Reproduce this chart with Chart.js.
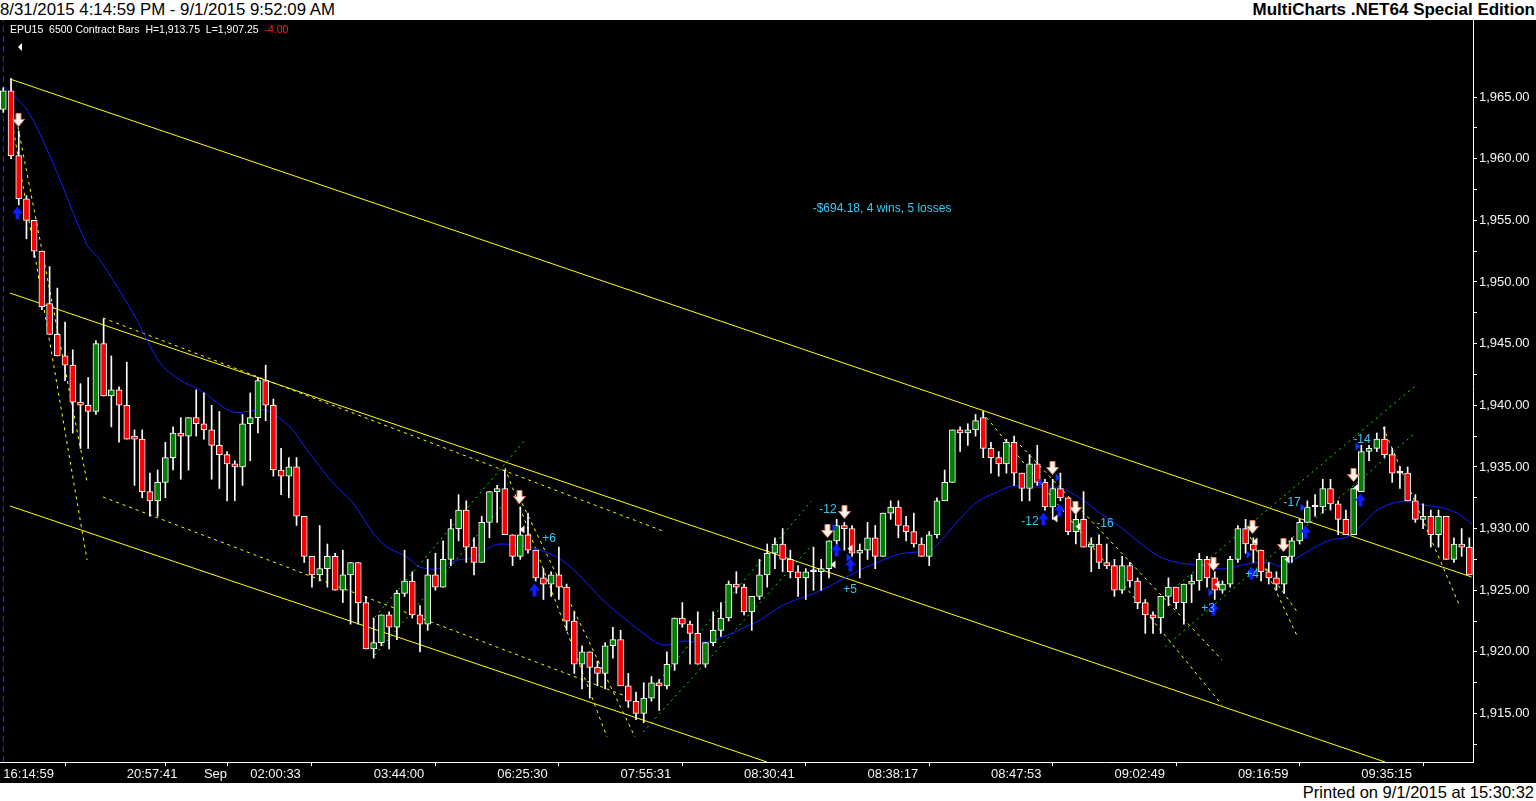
<!DOCTYPE html>
<html><head><meta charset="utf-8">
<script src="https://cdn.jsdelivr.net/npm/chart.js@4.4.0/dist/chart.umd.min.js"></script>
<style>
html,body{margin:0;padding:0;background:#fff;width:1536px;height:801px;overflow:hidden;font-family:"Liberation Sans",Arial,sans-serif}
#hdr{position:absolute;left:0;top:0;width:1536px;height:20px;background:#fff}
#hdrL{position:absolute;left:0;top:0;font-size:16.8px;color:#000;line-height:20px;white-space:nowrap}
#hdrR{position:absolute;right:1px;top:0;font-size:17px;font-weight:bold;color:#000;line-height:20px;white-space:nowrap}
#wrap{position:absolute;left:0;top:20px;width:1536px;height:763px;background:#000}
#ftr{position:absolute;left:0;top:783px;width:1536px;height:18px;background:#fff}
#ftrT{position:absolute;right:2px;top:0;font-size:16.5px;line-height:18px;color:#000;white-space:nowrap}
</style></head>
<body>
<div id="hdr"><span id="hdrL">8/31/2015 4:14:59 PM - 9/1/2015 9:52:09 AM</span><span id="hdrR">MultiCharts .NET64 Special Edition</span></div>
<div id="wrap"><canvas id="c" width="1536" height="763"></canvas></div>
<div id="ftr"><span id="ftrT">Printed on 9/1/2015 at 15:30:32</span></div>
<script>
// ---- Candle data (bar index 0..190) ----
const open = [1964,1965.5,1960.25,1956.75,1955,1952.5,1948.25,1945.75,1944,1943.25,
1940.25,1940,1939.5,1945,1940.75,1941.25,1940,1937.5,1937.25,1933,
1932.25,1933.75,1935.75,1937.75,1937.5,1939,1938.5,1938,1936.75,1936,
1935.25,1935,1938.5,1939,1942,1940,1934.75,1934.25,1935,1931,
1927.75,1926.25,1926.75,1927.75,1925,1926.25,1927.25,1924,1920.25,1920.75,
1923,1922,1924.75,1925.75,1923,1922.25,1926.25,1925.25,1927.5,1930,
1931.5,1928.5,1927.25,1930.5,1933,1933.25,1929.5,1927.75,1929.5,1928.25,
1926,1925.5,1926.25,1925.25,1922.5,1919,1920,1918.75,1918.25,1920.5,
1921,1917.25,1916,1915,1916.25,1917.5,1917.25,1919,1922.75,1922.25,
1921.5,1919,1920.75,1921.75,1922.75,1925.5,1925.25,1923.25,1924.5,1926.25,
1928,1928.75,1927.5,1926.5,1926,1926.5,1926.5,1926.75,1929,1930.25,
1930,1928,1928.25,1929.25,1927.75,1931.25,1931.75,1930.25,1929.75,1928.75,
1927.75,1929.5,1932.25,1933.75,1938,1937.75,1938,1939,1936.5,1935.75,
1935.25,1937,1934.5,1933.25,1935.25,1933.75,1931.75,1933.25,1932.5,1929.75,
1930.75,1928.5,1928.75,1927.25,1927,1925,1927,1925.75,1924,1923,
1922.75,1924.5,1925.25,1924,1925.5,1925.75,1927.5,1926,1925,1925.5,
1927.5,1930,1928.75,1928.25,1926.5,1926,1925.5,1927.75,1929,1930.5,
1931.75,1931.75,1933.25,1932,1930.75,1929.5,1933,1936.25,1936.5,1937.25,
1936,1934.5,1934.5,1932.25,1930.75,1931,1929.5,1931,1927.5,1928.75,
1928.5];
const high = [1965.75,1966.5,1962.25,1957,1955,1952.5,1951.25,1949.5,1946.75,1944.5,
1941.75,1942.25,1945.25,1947,1944,1941.5,1943.5,1938,1938,1934.5,
1934.75,1937,1938.25,1939,1939,1941.25,1941,1940,1939.5,1936.25,
1935.5,1939.25,1941,1942.25,1943.25,1940.5,1936.5,1935.75,1935.75,1931,
1927.75,1930.25,1928.75,1928,1928.25,1927.25,1927.25,1924.5,1922.75,1923,
1923.25,1925,1928.25,1926.5,1923.75,1927.5,1928,1929,1930.75,1932.75,
1932.25,1929.25,1931,1933,1933.5,1934.75,1929.5,1931.75,1931.25,1928.25,
1926.75,1926.5,1928.5,1925.5,1923.25,1920.5,1920,1919.25,1920.75,1922,
1921.75,1918.25,1916.75,1917.5,1918,1917.75,1920,1922.75,1924,1922.5,
1923.25,1920.75,1923.25,1924,1925.75,1926.5,1925.5,1924.5,1927.5,1928.75,
1929.25,1930,1928.25,1927,1926.75,1928.5,1927.5,1929,1930.75,1930.5,
1930.25,1928.75,1930.5,1930.25,1931.25,1932.25,1932.25,1931,1931.25,1929.25,
1929.75,1932.5,1934.75,1938,1938.25,1938.5,1939.25,1939.5,1937,1936.25,
1937.25,1937.5,1934.5,1936,1936.75,1934,1934,1934.5,1932.5,1931.25,
1933,1929.25,1929.5,1928.75,1927.5,1927.75,1927.25,1926,1924.25,1923.25,
1924.5,1926,1925.25,1925.5,1926.25,1928,1927.75,1926.5,1925.75,1927.75,
1930.25,1930.75,1929.25,1928.25,1927.25,1926.5,1927.75,1929.25,1930.75,1932.25,
1932.75,1934,1934,1932.25,1931.5,1933.25,1936.75,1936.75,1937.75,1938.25,
1936.5,1935,1935,1932.75,1932,1931.5,1931.5,1931,1929.25,1930,
1929.25];
const low = [1963.75,1960,1956.25,1953.5,1952,1947.75,1945.75,1944,1942,1937.75,
1936.5,1936.5,1939.25,1940.75,1938.25,1937,1937.25,1933.5,1932.5,1931,
1931,1932.5,1934.75,1934,1934.75,1937.5,1937.25,1934,1933.25,1932.25,
1932.25,1933.5,1935.5,1937.75,1938.75,1934.25,1932.75,1932.5,1930.25,1927.25,
1925.25,1925.75,1925.25,1925,1924,1922.25,1922.25,1920.25,1919.5,1920.5,
1920.25,1921,1924.5,1922.75,1920,1921.75,1925,1925.25,1927,1929,
1927.25,1926.25,1927.25,1929.25,1930.5,1929.5,1927,1927.5,1928,1925.75,
1924.25,1924.5,1924.25,1921.75,1918.25,1917,1916.25,1917.25,1917,1919.5,
1917.25,1915.5,1914.5,1914.25,1916,1915.25,1917,1918.5,1922,1919,
1919,1918.75,1920.5,1921.25,1922.5,1924.75,1923,1921.75,1924.25,1925.25,
1926.75,1926.5,1926,1924.5,1924.25,1925,1925,1926,1928.5,1928.25,
1927.75,1926,1927.5,1926.75,1927.75,1930.75,1929.25,1929,1928.5,1927.75,
1927,1929.25,1932.25,1933.75,1936.25,1936.75,1937.5,1935.75,1934.5,1934.25,
1934.5,1933.5,1932.25,1932.25,1933.5,1931.5,1930.75,1932.25,1929.5,1928.75,
1928.5,1926.5,1926.75,1926.75,1924.5,1924.75,1925.25,1923.5,1921.5,1921.5,
1921.5,1923.75,1923.5,1922.25,1924,1925,1925.25,1924.25,1924.75,1925.25,
1927.25,1928,1927.25,1925.75,1925.5,1925,1924.75,1927.25,1928.75,1930.5,
1931,1931.25,1931.5,1929.5,1929.5,1929.5,1933,1935.5,1936.25,1935.75,
1933.75,1933.25,1932.25,1930.5,1930,1928.5,1928.5,1927.5,1927.25,1927.75,
1926.25];
const close = [1965.5,1960.25,1956.75,1955,1952.5,1948,1945.75,1944,1943.25,1940.25,
1940,1939.5,1945,1940.75,1941.25,1940,1937.25,1937.25,1933,1932.25,
1933.75,1935.75,1937.75,1937.5,1939,1938.5,1938,1936.75,1936,1935.25,
1935,1938.5,1939,1942,1940,1934.75,1934.25,1935,1931,1927.75,
1926.25,1926.75,1927.75,1925,1926.25,1927.25,1924,1920.25,1920.75,1923,
1922,1924.75,1925.75,1923,1922.25,1926.25,1925.25,1927.5,1930,1931.5,
1928.5,1927.25,1930.5,1933,1933.25,1929.5,1927.75,1929.5,1928.25,1926,
1925.5,1926.25,1925.25,1922.5,1919,1920,1918.75,1918.25,1920.5,1921,
1917.25,1916,1915,1916.25,1917.5,1917.25,1919,1922.75,1922.25,1921.5,
1919,1920.75,1921.75,1922.75,1925.5,1925.25,1923.25,1924.5,1926.25,1928,
1928.75,1927.5,1926.5,1926,1926.5,1926.5,1926.75,1929,1930.25,1930,
1928,1928.25,1929.25,1927.75,1931.25,1931.75,1930.25,1929.75,1928.75,1927.75,
1929.5,1932.25,1933.75,1938,1937.75,1938,1938.75,1936.5,1935.75,1935.25,
1937,1934.5,1933.25,1935.25,1933.75,1931.75,1933.25,1932.5,1929.75,1930.75,
1928.5,1928.75,1927.25,1927,1925,1927,1925.75,1924,1923,1922.75,
1924.5,1925.25,1924,1925.5,1925.75,1927.5,1926,1925,1925.5,1927.5,
1930,1928.75,1928.25,1926.5,1926,1925.5,1927.75,1929,1930.5,1931.75,
1931.75,1933.25,1932,1930.75,1929.5,1933.25,1936.25,1936.5,1937.25,1936,
1934.5,1934.5,1932.25,1930.75,1931,1929.5,1931,1927.5,1928.75,1928.5,
1926.25];

// ---- Axis ticks ----
const xTickIdx  = [0,16,26,32,48,64,80,96,112,128,144,160,176];
const xTickText = ['16:14:59','20:57:41','Sep','02:00:33','03:44:00','06:25:30','07:55:31','08:30:41','08:38:17','08:47:53','09:02:49','09:16:59','09:35:15'];
const yTickVals = [1912.5,1915,1917.5,1920,1922.5,1925,1927.5,1930,1932.5,1935,1937.5,1940,1942.5,1945,1947.5,1950,1952.5,1955,1957.5,1960,1962.5,1965];

// ---- Moving average (read at sampled bars) ----
const maIdx = [0,3.07,6.44,10.85,12.53,16.81,20.31,22.9,25.49,29.77,33.92,37.16,39.36,42.73,45.32,47.91,49.73,52.32,54.01,56.21,58.8,60.87,63.08,64.37,68.26,71.76,74.35,77.72,81.22,84.72,86.02,88.09,91.2,93.27,95.87,98.07,101.05,105.46,108.05,111.03,114.01,116.21,118.42,120.1,121.79,123.6,126.2,128.79,130.86,133.45,136.95,139.93,142.14,144.73,147.32,149.91,152.5,155.09,157.68,159.37,161.96,164.17,165.46,166.76,169.35,171.94,174.14,175.83,178.03,180.62,182.31,184.0,186.59,188.39,190.34];
const maVal = [1965.89,1963.95,1959.65,1953.0,1951.78,1947.48,1943.43,1942.05,1941.24,1939.45,1939.61,1938.24,1936.37,1933.69,1932.07,1929.64,1928.5,1927.69,1926.88,1926.72,1927.45,1927.61,1928.5,1928.75,1928.5,1927.69,1926.39,1924.2,1922.34,1920.72,1920.55,1920.88,1920.8,1921.2,1921.93,1922.58,1923.8,1924.85,1925.66,1926.64,1927.45,1927.94,1928.1,1928.18,1929.23,1930.53,1932.15,1932.96,1933.45,1933.37,1933.29,1932.32,1931.26,1930.13,1928.83,1927.69,1927.21,1927.04,1926.72,1926.88,1927.21,1927.21,1926.96,1927.29,1928.26,1929.07,1929.32,1930.13,1931.5,1932.15,1932.15,1931.91,1931.67,1931.26,1930.37];

// ---- Trend lines [barIndex, price] ----
const trendTop = [[0.87,1966.46],[190.3,1926.07]];
const trendMid = [[0.87,1949.10],[179.07,1911.07]];
const trendLow = [[0.87,1931.83],[98.97,1911.07]];
const dashUpper = [[12.92,1947.08],[85.5,1929.80]];
const dashLower = [[12.92,1932.56],[80.96,1916.34]];
const steepLines = [
  [[0.87,1963.95],[10.85,1927.45]],
  [[1.9,1962.57],[10.85,1933.78]],
  [[65.02,1934.91],[78.24,1913.09]],
  [[66.84,1932.56],[81.87,1913.09]],
  [[126.84,1939.45],[157.95,1915.69]],
  [[131.77,1936.78],[157.95,1919.34]],
  [[161.6,1929.32],[167.8,1921.13]],
  [[162.6,1927.69],[167.8,1923.15]],
  [[178.8,1938.24],[188.8,1923.64]]
];
const greenLines = [
  [[48.17,1922.83],[67.61,1937.18]],
  [[48.17,1919.75],[64.76,1931.91]],
  [[84.46,1917.31],[104.68,1932.2]],
  [[82.91,1913.50],[104.68,1928.58]],
  [[149.9,1924.20],[182.95,1941.56]],
  [[150.57,1920.42],[182.95,1937.75]]
];

// ---- Trades ----
const downIdx   = [1.9,66.84,108.96,106.75,135.91,138.89,156.78,161.84,165.86,174.93];
const downPrice = [1963.13,1932.56,1931.34,1929.8,1934.91,1931.67,1927.13,1930.13,1928.67,1934.34];
const upIdx     = [1.78,68.78,107.92,109.73,134.75,136.82,156.78,161.7,168.7,175.83];
const upPrice   = [1955.67,1925.1,1928.34,1927.13,1930.86,1931.59,1923.56,1926.48,1929.8,1932.4];
const entryIdx   = [107.66,109.47,134.36,136.56,156.39,161.31,168.32,175.44];
const entryPrice = [1930.13,1927.69,1933.78,1934.18,1924.85,1927.94,1931.75,1936.70];
const exitIdx    = [67.18,107.53,109.73,136.3,139.28,157.3,162.22,166.37,175.31];
const exitPrice  = [1929.94,1927.13,1928.42,1930.86,1930.21,1925.5,1928.99,1927.53,1933.37];
const pnlIdx    = [70.72,109.73,106.88,133.06,142.78,156.13,161.83,167.02,176.09];
const pnlPrice  = [1929.15,1925.02,1931.5,1930.53,1930.37,1923.48,1926.23,1932.07,1937.18];
const pnlText   = ['+6','+5','-12','-12','-16','+3','+4','-17','-14'];
const summaryText = '-$694.18, 4 wins, 5 losses';
const summaryPos = [113.88,1955.92];

const xMin = -0.43, xMax = 190.47, yMin = 1911.07, yMax = 1971.245;

// ---- Build datasets ----
const idx = open.map((_, i) => i);
const FONT = '"Liberation Sans", Arial, sans-serif';
function seg(pts, color, dash, order) {
  return {type:'line', data: pts.map(p => ({x:p[0], y:p[1]})), borderColor: color, borderWidth: 1,
    borderDash: dash, pointRadius: 0, fill: false, order: order, tension: 0};
}
const datasets = [];
datasets.push({type:'bar', data: idx.map(i => ({x:i, y:[open[i], close[i]]})),
  backgroundColor: idx.map(i => close[i] > open[i] ? '#008000' : (close[i] < open[i] ? '#ff0000' : '#ffffff')),
  borderColor: '#ffffff', borderWidth: 1, borderSkipped: false, barThickness: 6, minBarLength: 2,
  grouped: false, order: 0});
datasets.push({type:'bar', data: idx.map(i => ({x:i, y:[low[i], high[i]]})),
  backgroundColor: '#ffffff', borderWidth: 0, barThickness: 1, grouped: false, order: 1});
datasets.push({type:'line', data: maIdx.map((v,k) => ({x:v, y:maVal[k]})), borderColor:'#1020ff', borderWidth:1, pointRadius:0, fill:false, order:2, tension:0.3});
datasets.push(seg([[0,yMin],[0,yMax]], '#2030ff', [6,4], 3));
datasets.push(seg(trendTop, '#ffff00', [], 3));
datasets.push(seg(trendMid, '#ffff00', [], 3));
datasets.push(seg(trendLow, '#ffff00', [], 3));
datasets.push(seg(dashUpper, '#ffff00', [3,4], 3));
datasets.push(seg(dashLower, '#ffff00', [3,4], 3));
steepLines.forEach(l => datasets.push(seg(l, '#ffff00', [3,4], 3)));
greenLines.forEach(l => datasets.push(seg(l, '#00f000', [2,4], 3)));

function drawDown(ctx, cx, cy) {
  ctx.beginPath();
  ctx.moveTo(cx-2.5, cy-7); ctx.lineTo(cx+2.5, cy-7); ctx.lineTo(cx+2.5, cy-1);
  ctx.lineTo(cx+6, cy-1); ctx.lineTo(cx, cy+6); ctx.lineTo(cx-6, cy-1);
  ctx.lineTo(cx-2.5, cy-1); ctx.closePath();
  ctx.fillStyle = '#fff6f0'; ctx.fill();
  ctx.strokeStyle = '#e0805a'; ctx.lineWidth = 1; ctx.stroke();
}
function drawUp(ctx, cx, cy) {
  ctx.beginPath();
  ctx.moveTo(cx-2, cy+7); ctx.lineTo(cx+2, cy+7); ctx.lineTo(cx+2, cy+1);
  ctx.lineTo(cx+5.5, cy+1); ctx.lineTo(cx, cy-6); ctx.lineTo(cx-5.5, cy+1);
  ctx.lineTo(cx-2, cy+1); ctx.closePath();
  ctx.fillStyle = '#0a1eff'; ctx.fill();
}
const overlay = {
  id: 'overlay',
  afterDatasetsDraw(chart) {
    const ctx = chart.ctx, xs = chart.scales.x, ys = chart.scales.y;
    const px = v => Math.round(xs.getPixelForValue(v)) + 0.5;
    const py = v => Math.round(ys.getPixelForValue(v)) + 0.5;
    ctx.save();
    downIdx.forEach((v,k) => drawDown(ctx, px(v), py(downPrice[k])));
    upIdx.forEach((v,k) => drawUp(ctx, px(v), py(upPrice[k])));
    // entry markers (blue, pointing right)
    ctx.fillStyle = '#1030ff';
    entryIdx.forEach((v,k) => { const cx = px(v), cy = py(entryPrice[k]);
      ctx.beginPath(); ctx.moveTo(cx-2, cy-4); ctx.lineTo(cx+3, cy); ctx.lineTo(cx-2, cy+4); ctx.closePath(); ctx.fill(); });
    // exit markers (white, pointing left)
    ctx.fillStyle = '#fff0ea';
    exitIdx.forEach((v,k) => { const cx = px(v), cy = py(exitPrice[k]);
      ctx.beginPath(); ctx.moveTo(cx+2, cy-4); ctx.lineTo(cx-3, cy); ctx.lineTo(cx+2, cy+4); ctx.closePath(); ctx.fill(); });
    ctx.fillStyle = '#3cc8f5';
    ctx.font = '12px ' + FONT;
    ctx.textAlign = 'center'; ctx.textBaseline = 'middle';
    pnlIdx.forEach((v,k) => ctx.fillText(pnlText[k], xs.getPixelForValue(v), ys.getPixelForValue(pnlPrice[k])));
    ctx.fillText(summaryText, xs.getPixelForValue(summaryPos[0]), ys.getPixelForValue(summaryPos[1]));
    // info line
    ctx.textAlign = 'left';
    ctx.font = '10.5px ' + FONT;
    const info = 'EPU15  6500 Contract Bars  H=1,913.75  L=1,907.25  ';
    ctx.fillStyle = '#ffffff';
    ctx.fillText(info, 10, 10);
    const w = ctx.measureText(info).width;
    ctx.fillStyle = '#ff2020';
    ctx.fillText('-4.00', 10 + w, 10);
    ctx.fillStyle = '#ffffff';
    ctx.beginPath(); ctx.moveTo(18, 27); ctx.lineTo(22, 23); ctx.lineTo(22, 31); ctx.closePath(); ctx.fill();
    ctx.restore();
  }
};

new Chart(document.getElementById('c'), {
  type: 'bar',
  data: { datasets },
  options: {
    responsive: false, animation: false, devicePixelRatio: 1,
    layout: { padding: 0 },
    plugins: { legend: { display: false }, tooltip: { enabled: false } },
    scales: {
      x: {
        type: 'linear', position: 'bottom', min: xMin, max: xMax, offset: false,
        afterBuildTicks: s => { s.ticks = xTickIdx.map(v => ({ value: v })); },
        afterFit: s => { s.height = 21; s.paddingLeft = 0; s.paddingRight = 0; },
        ticks: { callback: v => { const k = xTickIdx.indexOf(v); return k >= 0 ? xTickText[k] : ''; },
          color: '#f4f4f4', font: { family: FONT, size: 13 }, align: 'start', padding: 1, maxRotation: 0, autoSkip: false },
        grid: { drawOnChartArea: false, drawTicks: true, tickLength: 4, color: '#ffffff', lineWidth: 1 },
        border: { display: true, color: '#ffffff', width: 1 }
      },
      y: {
        type: 'linear', position: 'right', min: yMin, max: yMax,
        afterBuildTicks: s => { s.ticks = yTickVals.map(v => ({ value: v })); },
        afterFit: s => { s.width = 63; s.paddingTop = 0; s.paddingBottom = 0; },
        ticks: { callback: v => (v % 5 === 0) ? v.toLocaleString('en-US', { minimumFractionDigits: 2, maximumFractionDigits: 2 }) : '',
          color: '#f4f4f4', font: { family: FONT, size: 13 }, padding: 2, autoSkip: false },
        grid: { drawOnChartArea: false, drawTicks: true, tickLength: 4, color: '#ffffff', lineWidth: 1 },
        border: { display: true, color: '#ffffff', width: 1 }
      }
    }
  },
  plugins: [overlay]
});
</script>
</body></html>
